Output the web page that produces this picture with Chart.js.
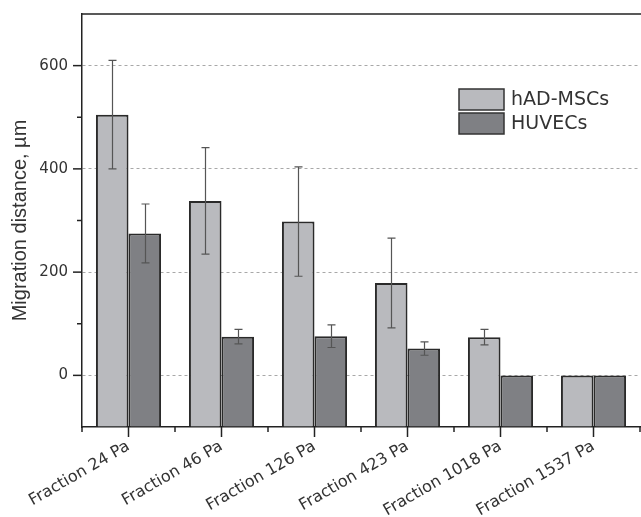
<!DOCTYPE html>
<html><head><meta charset="utf-8">
<script src="https://cdn.jsdelivr.net/npm/chart.js@4/dist/chart.umd.min.js"></script>
<style>html,body{margin:0;padding:0;background:#fff}</style>
</head><body>
<canvas id="c" width="641" height="517"></canvas>
<script>
const categories = ['Fraction 24 Pa','Fraction 46 Pa','Fraction 126 Pa','Fraction 423 Pa','Fraction 1018 Pa','Fraction 1537 Pa'];
const seriesNames = ['hAD-MSCs','HUVECs'];
const mscValues = [505, 338, 298, 179, 74, 0];
const mscErrors = [105, 103, 106, 87, 15, 0];
const huvecValues = [275, 75, 76, 52, 0, 0];
const huvecErrors = [57, 14, 22, 13, 0, 0];
const yMajorTicks = [0, 200, 400, 600];
const yMinorTicks = [100, 300, 500];
const yMin = -100, yMax = 700;

const AXIS = '#222';

const errorBars = {
  id: 'errorBars',
  afterDatasetsDraw(chart) {
    const {ctx, scales: {y}} = chart;
    ctx.save();
    ctx.strokeStyle = '#555';
    ctx.lineWidth = 1.2;
    chart.data.datasets.forEach((ds, di) => {
      const meta = chart.getDatasetMeta(di);
      meta.data.forEach((bar, i) => {
        const e = ds.errors[i];
        if (!e) return;
        const v = ds.data[i];
        const top = y.getPixelForValue(v + e), bot = y.getPixelForValue(v - e);
        const x = Math.round(bar.x) + 0.5;
        ctx.beginPath();
        ctx.moveTo(x, top); ctx.lineTo(x, bot);
        ctx.moveTo(x - 4, top); ctx.lineTo(x + 4, top);
        ctx.moveTo(x - 4, bot); ctx.lineTo(x + 4, bot);
        ctx.stroke();
      });
    });
    ctx.restore();
  }
};

const axisTicks = {
  id: 'axisTicks',
  afterDraw(chart) {
    const {ctx, scales: {x, y}, chartArea: a} = chart;
    ctx.save();
    ctx.strokeStyle = AXIS;
    ctx.lineWidth = 1.5;
    const line = (x1, y1, x2, y2) => { ctx.beginPath(); ctx.moveTo(x1, y1); ctx.lineTo(x2, y2); ctx.stroke(); };
    yMajorTicks.forEach(v => { const p = y.getPixelForValue(v); line(a.left - 9, p, a.left, p); });
    yMinorTicks.forEach(v => { const p = y.getPixelForValue(v); line(a.left - 5, p, a.left, p); });
    categories.forEach((c, i) => { const p = x.getPixelForValue(i); line(p, a.bottom, p, a.bottom + 10); });
    for (let i = 0; i <= categories.length; i++) {
      const p = x.getPixelForValue(i - 0.5);
      line(p, a.bottom, p, a.bottom + 5);
    }
    line(a.left, a.top, a.right + 2, a.top);
    ctx.restore();
  }
};

const boxLegend = {
  id: 'boxLegend',
  afterDraw(chart) {
    const {ctx} = chart;
    ctx.save();
    ctx.font = '19px "DejaVu Sans"';
    ctx.textBaseline = 'middle';
    ctx.textAlign = 'left';
    chart.data.datasets.forEach((ds, i) => {
      const bx = 459, by = 89 + i * 24, bw = 45, bh = 21;
      ctx.fillStyle = ds.backgroundColor;
      ctx.fillRect(bx, by, bw, bh);
      ctx.strokeStyle = '#333';
      ctx.lineWidth = 1.5;
      ctx.strokeRect(bx, by, bw, bh);
      ctx.fillStyle = '#333';
      ctx.fillText(ds.label, 511, by + bh / 2 + 1);
    });
    ctx.restore();
  }
};

new Chart(document.getElementById('c'), {
  type: 'bar',
  data: {
    labels: categories,
    datasets: [
      {label: seriesNames[0], data: mscValues, errors: mscErrors, backgroundColor: '#b9babe', borderColor: '#2a2a2a', borderWidth: 2, base: yMin, categoryPercentage: 0.7, barPercentage: 1.0},
      {label: seriesNames[1], data: huvecValues, errors: huvecErrors, backgroundColor: '#7f8084', borderColor: '#2a2a2a', borderWidth: 2, base: yMin, categoryPercentage: 0.7, barPercentage: 1.0}
    ]
  },
  options: {
    responsive: false,
    animation: false,
    layout: {padding: {top: 14, right: 1, left: 0, bottom: 0}},
    plugins: {legend: {display: false}, tooltip: {enabled: false}},
    scales: {
      x: {
        grid: {display: false, drawTicks: false},
        border: {display: true, color: AXIS, width: 1.5},
        ticks: {color: '#333', font: {family: 'DejaVu Sans', size: 16}, minRotation: 30, maxRotation: 30, padding: 10, autoSkip: false},
        afterFit(s) { s.height = 90; s.paddingLeft = 0; s.paddingRight = 0; s.paddingTop = 0; s.paddingBottom = 0; }
      },
      y: {
        min: yMin, max: yMax,
        grid: {drawTicks: false, lineWidth: 1, color: c => yMajorTicks.includes(c.tick.value) ? '#a8a8a8' : 'rgba(0,0,0,0)'},
        border: {display: true, color: AXIS, width: 1.5, dash: [3, 3]},
        ticks: {stepSize: 100, padding: 14, color: '#333', font: {family: 'DejaVu Sans', size: 15}, callback: v => yMajorTicks.includes(v) ? String(v) : ''},
        title: {display: true, text: 'Migration distance, µm', color: '#333', font: {family: 'Liberation Sans', size: 20}, padding: {top: 8, bottom: 0}},
        afterFit(s) { s.width = 82; s.paddingTop = 0; s.paddingBottom = 0; s.paddingLeft = 0; s.paddingRight = 0; }
      }
    }
  },
  plugins: [errorBars, axisTicks, boxLegend]
});
</script>
</body></html>
